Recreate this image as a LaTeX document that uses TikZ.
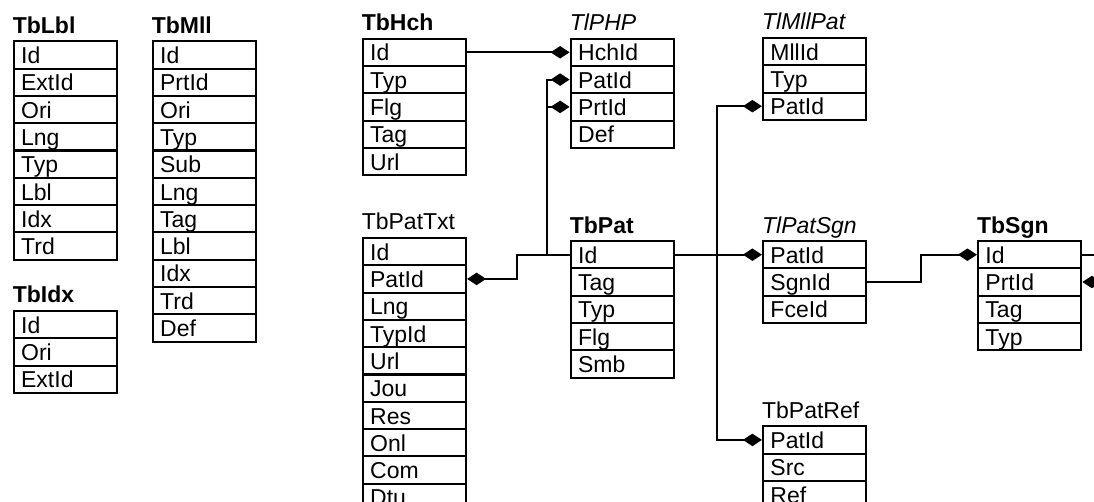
\documentclass[tikz,border=0pt]{standalone}
\usepackage{fontspec}
\setmainfont{Liberation Sans}
\usetikzlibrary{arrows.meta}
\newcommand\tabfont{\fontsize{23}{27}\selectfont}
\tikzset{
  tblrow/.style={draw, line width=2.1pt, anchor=north west, inner xsep=7.5pt,
    inner ysep=0pt, text width=88.4pt, align=left, minimum height=27.3pt,
    text height=17.3pt, text depth=0pt, font=\tabfont},
  ttl/.style={anchor=base west, inner sep=0pt},
  tb/.style={font=\tabfont\bfseries},
  tl/.style={font=\tabfont\itshape},
  tp/.style={font=\tabfont},
  fk/.style={line width=2pt, -{Diamond[length=19pt,width=12.5pt]}},
}
\newcommand\dbtab[6]{%
  \node[ttl,#4] (#1-t) at (#2,#3-7) {#5};
  \foreach \r [count=\i] in {#6} {
    \node[tblrow] (#1-\i) at (#2,{#3+(\i-1)*27.3}) {\r};
  }
}
\begin{document}
\begin{tikzpicture}[x=1pt,y=-1pt]
\useasboundingbox (0,0) rectangle (1094,501);
\clip (0,0) rectangle (1094,501);
\dbtab{TbLbl}{12.6}{40.2}{tb}{TbLbl}{Id,ExtId,Ori,Lng,Typ,Lbl,Idx,Trd}
\dbtab{TbMll}{151.6}{40.2}{tb}{TbMll}{Id,PrtId,Ori,Typ,Sub,Lng,Tag,Lbl,Idx,Trd,Def}
\dbtab{TbIdx}{12.6}{309.9}{tb}{TbIdx}{Id,Ori,ExtId}
\dbtab{TbHch}{361.6}{37.6}{tb}{TbHch}{Id,Typ,Flg,Tag,Url}
\dbtab{TlPHP}{569.6}{37.6}{tl}{TlPHP}{HchId,PatId,PrtId,Def}
\dbtab{TbPatTxt}{361.6}{236.9}{tp}{TbPatTxt}{Id,PatId,Lng,TypId,Url,Jou,Res,Onl,Com,Dtu}
\dbtab{TbPat}{569.6}{240}{tb}{TbPat}{Id,Tag,Typ,Flg,Smb}
\dbtab{TlMllPat}{761.9}{36.9}{tl}{TlMllPat}{MllId,Typ,PatId}
\dbtab{TlPatSgn}{761.9}{240}{tl}{TlPatSgn}{PatId,SgnId,FceId}
\dbtab{TbPatRef}{761.9}{425.2}{tp}{TbPatRef}{PatId,Src,Ref}
\dbtab{TbSgn}{976.9}{240}{tb}{TbSgn}{Id,PrtId,Tag,Typ}
\draw[fk] (TbHch-1.east) -- (TlPHP-1.west);
\draw[fk] (TbPat-1.west) -- ++(-22.3,0) |- (TlPHP-2.west);
\draw[fk] (TbPat-1.west) -- ++(-22.3,0) |- (TlPHP-3.west);
\draw[fk] (TbPat-1.west) -- ++(-52.3,0) |- (TbPatTxt-2.east);
\draw[fk] (TbPat-1.east) -- ++(42,0) |- (TlMllPat-3.west);
\draw[fk] (TbPat-1.east) -- (TlPatSgn-1.west);
\draw[fk] (TbPat-1.east) -- ++(42,0) |- (TbPatRef-1.west);
\draw[fk] (TlPatSgn-2.east) -- ++(54,0) |- (TbSgn-1.west);
\draw[fk] (TbSgn-1.east) -- ++(25,0) |- (TbSgn-2.east);
\end{tikzpicture}
\end{document}
